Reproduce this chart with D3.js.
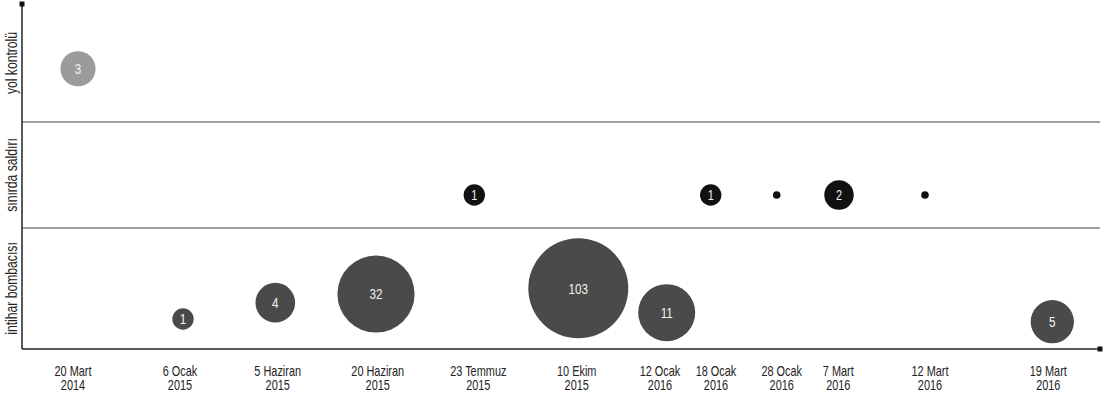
<!DOCTYPE html>
<html>
<head>
<meta charset="utf-8">
<script src="https://cdn.jsdelivr.net/npm/d3@7"></script>
<style>
  body { margin: 0; background: #fff; }
  svg { display: block; font-family: "Liberation Sans", Arial, sans-serif; }
</style>
</head>
<body>
<svg id="chart" width="1104" height="400"></svg>
<script>
// rows (top to bottom) and their edges in row units
const rows = ["yol kontrolü", "sınırda saldırı", "intihar bombacısı"];
const rowColors = ["#9b9b9b", "#111111", "#4a4a4a"];
const rowEdges = [3, 1.974, 1.052, 0];

// date ticks along the bottom
const tickDay = ["20 Mart", "6 Ocak", "5 Haziran", "20 Haziran", "23 Temmuz", "10 Ekim",
  "12 Ocak", "18 Ocak", "28 Ocak", "7 Mart", "12 Mart", "19 Mart"];
const tickYear = ["2014", "2015", "2015", "2015", "2015", "2015",
  "2016", "2016", "2016", "2016", "2016", "2016"];
const tickPos = [51, 158, 255.7, 355.7, 456.3, 554.7, 638, 694, 759.7, 816.3, 908, 1026.3];

// events: row index, count, position along the axis, height in row units
const evRow = [0, 1, 1, 1, 1, 1, 2, 2, 2, 2, 2, 2];
const evCount = [3, 1, 1, 0, 2, 0, 1, 4, 32, 103, 11, 5];
const evX = [56, 452.3, 688.7, 754.7, 817, 903, 161, 253.3, 354, 556.3, 644.7, 1030.3];
const evY = [2.437, 1.339, 1.339, 1.339, 1.339, 1.339, 0.261, 0.403, 0.478, 0.528, 0.316, 0.237];

const events = evRow.map((r, i) => ({ row: r, count: evCount[i], x: evX[i], y: evY[i] }));

const svg = d3.select("#chart");
const x0 = 22, x1 = 1100, yTop = 4, yBot = 349;
const narrow = 0.78; // condensed look

const x = d3.scaleLinear().domain([0, 1078]).range([x0, x1]);
const y = d3.scaleLinear().domain([0, 3]).range([yBot, yTop]);
const r = d3.scaleSymlog().domain([0, 103]).range([3.8, 50]);

// row separators
svg.selectAll("line.sep")
  .data(rowEdges.slice(1, -1))
  .enter()
  .append("line")
  .attr("class", "sep")
  .attr("x1", x0).attr("x2", x1)
  .attr("y1", d => y(d)).attr("y2", d => y(d))
  .attr("stroke", "#808080")
  .attr("stroke-width", 1.5);

// axes
svg.append("line")
  .attr("x1", x0).attr("x2", x0).attr("y1", yTop).attr("y2", yBot)
  .attr("stroke", "#222").attr("stroke-width", 1.5);
svg.append("line")
  .attr("x1", x0).attr("x2", x1).attr("y1", yBot).attr("y2", yBot)
  .attr("stroke", "#222").attr("stroke-width", 1.5);
svg.append("rect").attr("x", x0 - 2.5).attr("y", yTop - 2.5).attr("width", 5).attr("height", 5).attr("fill", "#111");
svg.append("rect").attr("x", x1 - 2.5).attr("y", yBot - 2.5).attr("width", 5).attr("height", 5).attr("fill", "#111");

// row labels
svg.selectAll("text.row")
  .data(rows)
  .enter()
  .append("text")
  .attr("class", "row")
  .attr("transform", (d, i) => `translate(17, ${(y(rowEdges[i]) + y(rowEdges[i + 1])) / 2}) rotate(-90) scale(0.76, 1)`)
  .attr("text-anchor", "middle")
  .attr("font-size", 16)
  .attr("fill", "#222")
  .text(d => d);

// date ticks
const ticks = svg.selectAll("g.tick")
  .data(tickDay)
  .enter()
  .append("g")
  .attr("class", "tick")
  .attr("transform", (d, i) => `translate(${x(tickPos[i])}, 0) scale(${narrow}, 1)`)
  .attr("text-anchor", "middle")
  .attr("font-size", 14)
  .attr("fill", "#222");
ticks.append("text").attr("y", 376).text(d => d);
ticks.append("text").attr("y", 390.5).text((d, i) => tickYear[i]);

// bubbles
const g = svg.selectAll("g.ev")
  .data(events)
  .enter()
  .append("g")
  .attr("class", "ev")
  .attr("transform", d => `translate(${x(d.x)}, ${y(d.y)})`);

g.append("circle")
  .attr("r", d => r(d.count))
  .attr("fill", d => rowColors[d.row]);

g.filter(d => d.count > 0)
  .append("text")
  .attr("transform", `scale(${narrow}, 1)`)
  .attr("text-anchor", "middle")
  .attr("dy", "0.36em")
  .attr("font-size", d => d.row === 1 ? 14 : 15)
  .attr("fill", "#f2f2f2")
  .text(d => d.count);
</script>
</body>
</html>
